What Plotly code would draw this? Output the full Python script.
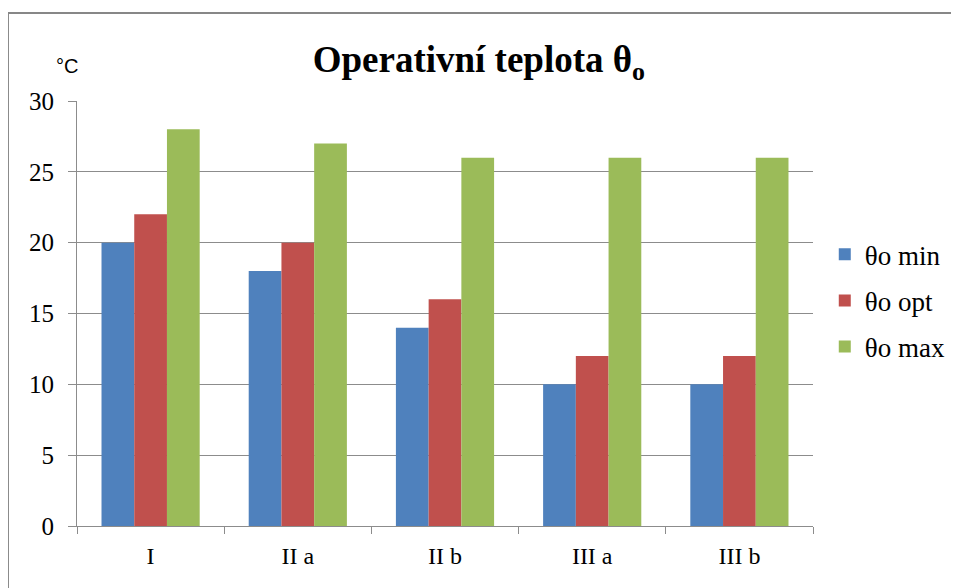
import plotly.graph_objects as go

categories = ['I', 'II a', 'II b', 'III a', 'III b']
theta_min = [20, 18, 14, 10, 10]
theta_opt = [22, 20, 16, 12, 12]
theta_max = [28, 27, 26, 26, 26]

series_names = ['θo min', 'θo opt', 'θo max']
series_colors = ['#4F81BD', '#C0504D', '#9BBB59']

serif = 'Liberation Serif'

fig = go.Figure()
for name, vals, col in zip(series_names, [theta_min, theta_opt, theta_max], series_colors):
    fig.add_trace(go.Bar(x=categories, y=vals, name=name, legendgroup=name,
                         marker=dict(color=col, line=dict(width=0))))

# page body has an 8px margin, so the plot box is shifted up/left by 8px
fig.update_layout(
    width=959, height=588,
    margin=dict(l=69, r=154, t=93, b=70),
    paper_bgcolor='white', plot_bgcolor='white',
    barmode='group', bargap=0.333, bargroupgap=0,
    font=dict(family=serif, size=24, color='black'),
    title=dict(text='<b>Operativní teplota θ<sub>o</sub></b>',
               font=dict(family=serif, size=37, color='black'),
               x=0.491, xanchor='center', xref='container', y=0.913, yanchor='middle'),
    legend=dict(x=1.016, xanchor='left', y=0.53, yanchor='middle',
                font=dict(family=serif, size=27, color='black'), tracegroupgap=8,
                itemwidth=30, bgcolor='rgba(0,0,0,0)'),
    showlegend=True,
)

fig.update_yaxes(range=[0, 30], dtick=5, showgrid=True, gridcolor='#8c8c8c', gridwidth=1,
                 showline=True, linecolor='#8c8c8c', linewidth=1,
                 ticks='outside', ticklen=8, tickcolor='#8c8c8c', ticklabelstandoff=9,
                 tickfont=dict(family=serif, size=25), zeroline=False)
fig.update_xaxes(showline=True, linecolor='#8c8c8c', linewidth=1,
                 ticks='outside', ticklen=7, tickcolor='#8c8c8c', tickson='boundaries',
                 ticklabelstandoff=8, tickfont=dict(family=serif, size=24))

fig.add_annotation(text='°C', xref='paper', yref='paper', x=-0.0136, y=1.082,
                   showarrow=False, xanchor='center', yanchor='middle',
                   font=dict(family='Liberation Sans', size=20, color='black'))

# chart frame
fig.add_shape(type='rect', xref='paper', yref='paper',
              x0=-0.0938, y0=-0.16, x1=1.25, y1=1.207,
              line=dict(color='#878787', width=2), layer='below')

fig.write_html('out.html')
